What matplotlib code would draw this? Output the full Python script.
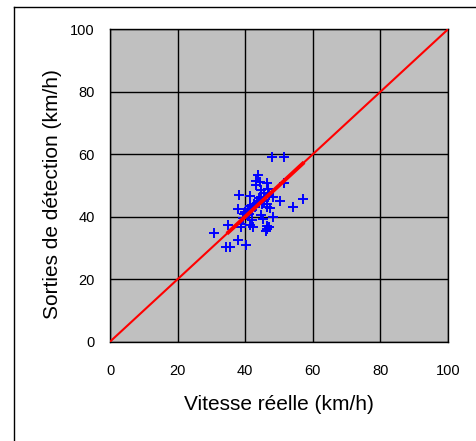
import matplotlib
matplotlib.use('Agg')
import matplotlib.pyplot as plt
from matplotlib.lines import Line2D

plt.rcParams['font.family'] = ['Liberation Sans', 'DejaVu Sans']

# 実測値と検知出力 (km/h)
real_speed = [47.9, 51.5, 43.8, 43.3, 44.5, 43.3, 46.3, 51.4, 44.6, 46.8,
              45.5, 38.3, 41.4, 44.8, 48.1, 50.2, 57.0, 54.1, 37.9, 40.0,
              40.8, 41.5, 39.5, 40.5, 42.0, 42.9, 43.5, 44.2, 45.0, 46.3,
              46.3, 47.2, 48.1, 45.2, 44.6, 42.0, 38.7, 38.8, 41.4, 42.2,
              46.3, 46.3, 46.1, 47.0, 35.0, 30.9, 37.9, 34.4, 35.4, 40.1,
              39.2, 41.0, 42.5, 44.0, 45.5, 47.0]
detected = [59.0, 59.0, 53.3, 51.5, 51.0, 50.0, 50.8, 50.8, 48.5, 48.9,
            47.5, 46.9, 46.5, 46.2, 46.4, 45.0, 45.6, 43.0, 42.5, 41.5,
            42.5, 43.5, 41.0, 40.5, 42.0, 43.2, 44.5, 45.0, 44.0, 44.2,
            43.2, 42.8, 40.0, 39.3, 40.5, 39.0, 37.6, 36.8, 37.4, 36.7,
            37.1, 36.2, 35.4, 36.6, 37.4, 34.8, 32.4, 30.4, 30.4, 30.8,
            39.6, 41.0, 44.0, 46.0, 45.0, 47.0]

ideal = [0, 100]          # y = x
fit_range = [35, 57]      # 太い部分
ticks = [0, 20, 40, 60, 80, 100]

fig = plt.figure(figsize=(4.76, 4.41), dpi=100)
ax = fig.add_axes([0.2311, 0.2252, 0.7101, 0.7084])
ax.set_facecolor('#C0C0C0')

ax.plot(real_speed, detected, linestyle='none', marker='+', color='#0000FF',
        markersize=7, markeredgewidth=1.4, zorder=3)
ax.plot(ideal, ideal, color='red', linewidth=1.5, zorder=4)
ax.plot(fit_range, fit_range, color='red', linewidth=2.8, zorder=4)

ax.set_xlim(0, 100)
ax.set_ylim(0, 100)
ax.set_xticks(ticks)
ax.set_yticks(ticks)
ax.grid(True, color='black', linewidth=1.0)
ax.set_axisbelow(True)
ax.tick_params(length=0, labelsize=10.5)
ax.tick_params(axis='x', pad=16)
ax.tick_params(axis='y', pad=11)
for s in ax.spines.values():
    s.set_color('black')
    s.set_linewidth(1.0)

ax.set_xlabel('Vitesse réelle (km/h)', fontsize=15, labelpad=12)
ax.set_ylabel('Sorties de détection (km/h)', fontsize=15)
ax.yaxis.set_label_coords(-0.142, 0.474)

# 外枠（右と下は画像の外）
fig.add_artist(Line2D([14/476, 1.0], [1 - 7/441, 1 - 7/441], color='black', linewidth=1.0))
fig.add_artist(Line2D([14/476, 14/476], [0.0, 1 - 7/441], color='black', linewidth=1.0))

plt.savefig('out.png', dpi=100)
